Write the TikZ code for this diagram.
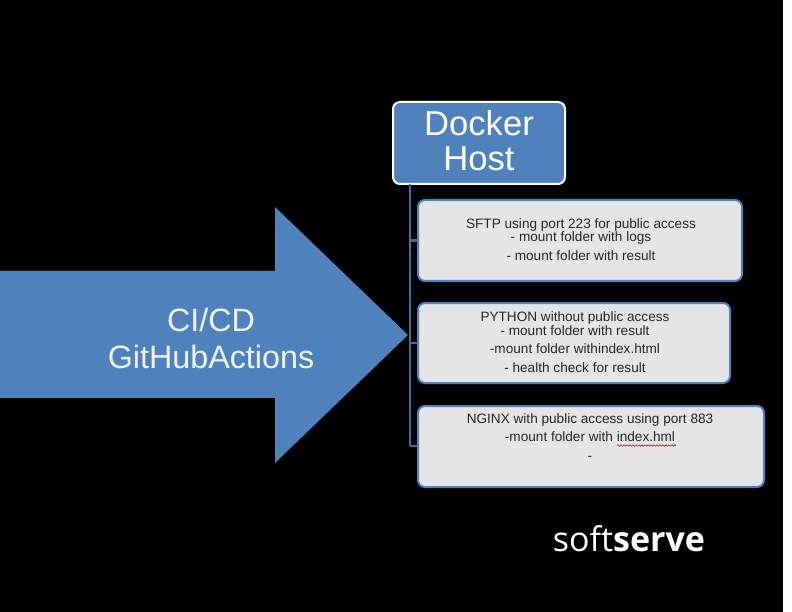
\documentclass[tikz,border=0pt]{standalone}
\usepackage{fontspec}
\setmainfont{Liberation Sans}
\newfontfamily\logofont{Open Sans}
\usetikzlibrary{decorations.pathmorphing}
\definecolor{bluefill}{HTML}{4F81BD}
\definecolor{panelfill}{HTML}{E5E5E5}
\tikzset{
  panel/.style={draw=bluefill,line width=2pt,fill=panelfill,rounded corners=7pt,anchor=north west,inner sep=0pt,outer sep=0pt},
  paneltext/.style={anchor=north,align=center,inner sep=0pt,text=black!85,font=\fontsize{13.6}{13.6}\selectfont},
  trunk/.style={draw=bluefill!85!black,line width=2.2pt},
}
\begin{document}
\begin{tikzpicture}[x=1pt,y=-1pt]
\useasboundingbox (0,0) rectangle (792,612);
\fill[white] (0,0) rectangle (783,612);
\fill[black] (0,0) rectangle (783,612);
% big arrow
\fill[bluefill] (0,271) -- (275,271) -- (275,207) -- (408,335) -- (275,463) -- (275,398) -- (0,398) -- cycle;
\node[text=white!90!bluefill,align=center,inner sep=0pt,font=\fontsize{32.3}{37}\selectfont] (cicd) at (211,338) {CI/CD\\GitHubActions};
% boxes
\node[draw=white,line width=2pt,fill=bluefill,rounded corners=7pt,anchor=north west,inner sep=0pt,outer sep=0pt,minimum width=172pt,minimum height=82pt,text=white,align=center,font=\fontsize{34.6}{34.6}\selectfont] (docker) at (393,102) {Docker\\Host\\[-29.6pt]\mbox{}};
\node[panel,minimum width=324pt,minimum height=81pt] (sftp) at (418,200) {};
\node[panel,minimum width=312pt,minimum height=80pt] (python) at (418,303) {};
\node[panel,minimum width=346pt,minimum height=81pt] (nginx) at (418,406) {};
\node[paneltext] (sftptext) at (581,218) {SFTP using port 223 for public access\\[0pt]- mount folder with logs\\[5pt]- mount folder with result};
\node[paneltext] (pythontext) at (575,311.5) {PYTHON without public access\\[0pt]- mount folder with result\\[5pt]-mount folder withindex.html\\[5pt]- health check for result};
\node[paneltext] (nginxtext) at (590,413) {NGINX with public access using port 883\\[5pt]-mount folder with index.hml\\[5pt]-};
\draw[red!80!black,line width=0.6pt,decorate,decoration={snake,amplitude=0.7pt,segment length=3pt}] (617,445.5) -- (676,445.5);
% connectors
\coordinate (trunktop) at (docker.south -| 410,0);
\coordinate (trunkend) at (410,446);
\path[trunk] (trunktop) -- (trunkend);
\path[trunk] (trunktop |- sftp.west) -- (sftp.west);
\path[trunk] (trunktop |- python.west) -- (python.west);
\path[trunk] (trunkend) -- (nginx.west |- trunkend);
% logo
\node[text=white,inner sep=0pt,font=\logofont\fontsize{34}{34}\selectfont] (logo) at (629,539) {soft\textbf{serve}};
\end{tikzpicture}
\end{document}
